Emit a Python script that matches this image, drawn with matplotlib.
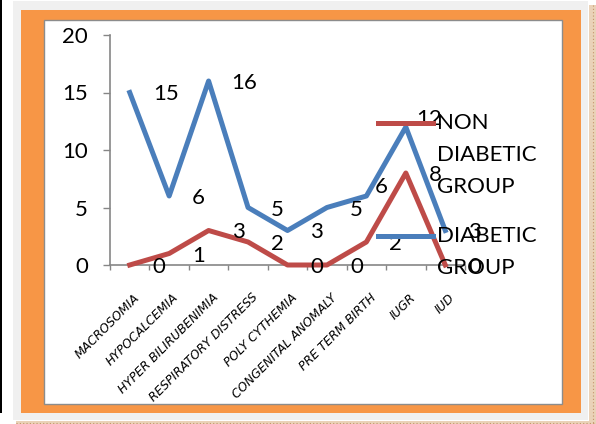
import matplotlib.pyplot as plt
from matplotlib.patches import Rectangle
from matplotlib.lines import Line2D
from matplotlib.transforms import ScaledTranslation, blended_transform_factory

# neonatal outcomes, counts per group
categories = ["MACROSOMIA", "HYPOCALCEMIA", "HYPER BILIRUBENIMIA",
              "RESPIRATORY DISTRESS", "POLY CYTHEMIA", "CONGENITAL ANOMALY",
              "PRE TERM BIRTH", "IUGR", "IUD"]
diabetic = [15, 6, 16, 5, 3, 5, 6, 12, 3]
non_diabetic = [0, 1, 3, 2, 0, 0, 2, 8, 0]
y_ticks = [0, 5, 10, 15, 20]
series_names = ["NON\nDIABETIC\nGROUP", "DIABETIC\nGROUP"]

W, H = 596, 424
BLUE = "#4a7ebb"
RED = "#be4b48"
ORANGE = "#f79646"
AXIS_GREY = "#868686"
PT = 72 / 100  # points per pixel at dpi 100

plt.rcParams['font.family'] = ['Lato', 'DejaVu Sans']

fig = plt.figure(figsize=(W / 100, H / 100), dpi=100)
fig.patch.set_facecolor("white")

# page background + orange frame, drawn in pixel units
bg = fig.add_axes([0, 0, 1, 1], zorder=-5)
bg.set_xlim(0, W)
bg.set_ylim(H, 0)
bg.axis("off")


def box(x0, y0, x1, y1, **kw):
    bg.add_patch(Rectangle((x0, y0), x1 - x0, y1 - y0, **kw))


box(0, 0, 1.5, 413, color="black", lw=0)
box(13, 1, 588, 420, color="#f0f0f0", lw=0)
box(21, 10, 581, 413, color=ORANGE, lw=0)
box(44, 20, 562, 404, facecolor="white", edgecolor="#8c8c8c", lw=1)
box(16, 421, 596, 424, color="#ead2b8", lw=0)
box(589, 5, 596, 424, color="#ead2b8", lw=0)
bg.plot([16, 596], [422.5, 422.5], color="#c49469", lw=0.8, ls=(0, (1, 2)))
bg.plot([592.5, 592.5], [5, 424], color="#c49469", lw=0.8, ls=(0, (1, 2)))

# chart area
ax = fig.add_axes([110 / W, 1 - 265 / H, 355 / W, 230 / H])
ax.patch.set_alpha(0)
xs = list(range(len(categories)))

ax.plot(xs, non_diabetic, color=RED, lw=3.6, clip_on=False, zorder=3)
ax.plot(xs, diabetic, color=BLUE, lw=3.6, clip_on=False, zorder=3)

ax.set_xlim(-0.5, len(categories) - 0.5)
ax.set_ylim(0, 20)
ax.set_yticks(y_ticks)
ax.set_xticks([i - 0.5 for i in range(len(categories) + 1)])
ax.set_xticklabels([])
ax.tick_params(axis="y", direction="out", length=5, width=1, color=AXIS_GREY,
               labelsize=16, pad=11)
ax.tick_params(axis="x", direction="out", length=3.5, width=1, color=AXIS_GREY)
for side in ("top", "right"):
    ax.spines[side].set_visible(False)
for side in ("left", "bottom"):
    ax.spines[side].set_color(AXIS_GREY)
    ax.spines[side].set_linewidth(1.2)

# slanted category names under the axis (DejaVu has a real oblique face)
lab_tr = blended_transform_factory(ax.transData, ax.transAxes) + \
    ScaledTranslation(3 / 100, -26 / 100, fig.dpi_scale_trans)
for i, name in enumerate(categories):
    ax.text(i, 0, name, transform=lab_tr, rotation=45, rotation_mode="anchor",
            ha="right", va="top", fontsize=8.8, style="italic",
            family="DejaVu Sans")

# value labels sit to the right of each point; two diabetic labels are nudged
nudge = {("d", 6): (8, -9), ("d", 7): (10, -8)}
for key, vals in (("n", non_diabetic), ("d", diabetic)):
    for i, v in enumerate(vals):
        dx, dy = nudge.get((key, i), (23, 2))
        ax.annotate(str(v), (i, v), xytext=(dx * PT, -dy * PT),
                    textcoords="offset points", ha="left", va="center",
                    fontsize=16, zorder=5, annotation_clip=False)

# legend, laid out by hand on the right
for name, color, y0 in zip(series_names, [RED, BLUE], [123, 236]):
    fig.add_artist(Line2D([378 / W, 433 / W], [1 - y0 / H] * 2, color=color,
                          lw=3.6, transform=fig.transFigure, zorder=6))
    for k, line in enumerate(name.split("\n")):
        fig.text(437 / W, 1 - (y0 + 32 * k) / H, line, ha="left",
                 va="center", fontsize=16, zorder=7)

fig.savefig("out.png", dpi=100)
